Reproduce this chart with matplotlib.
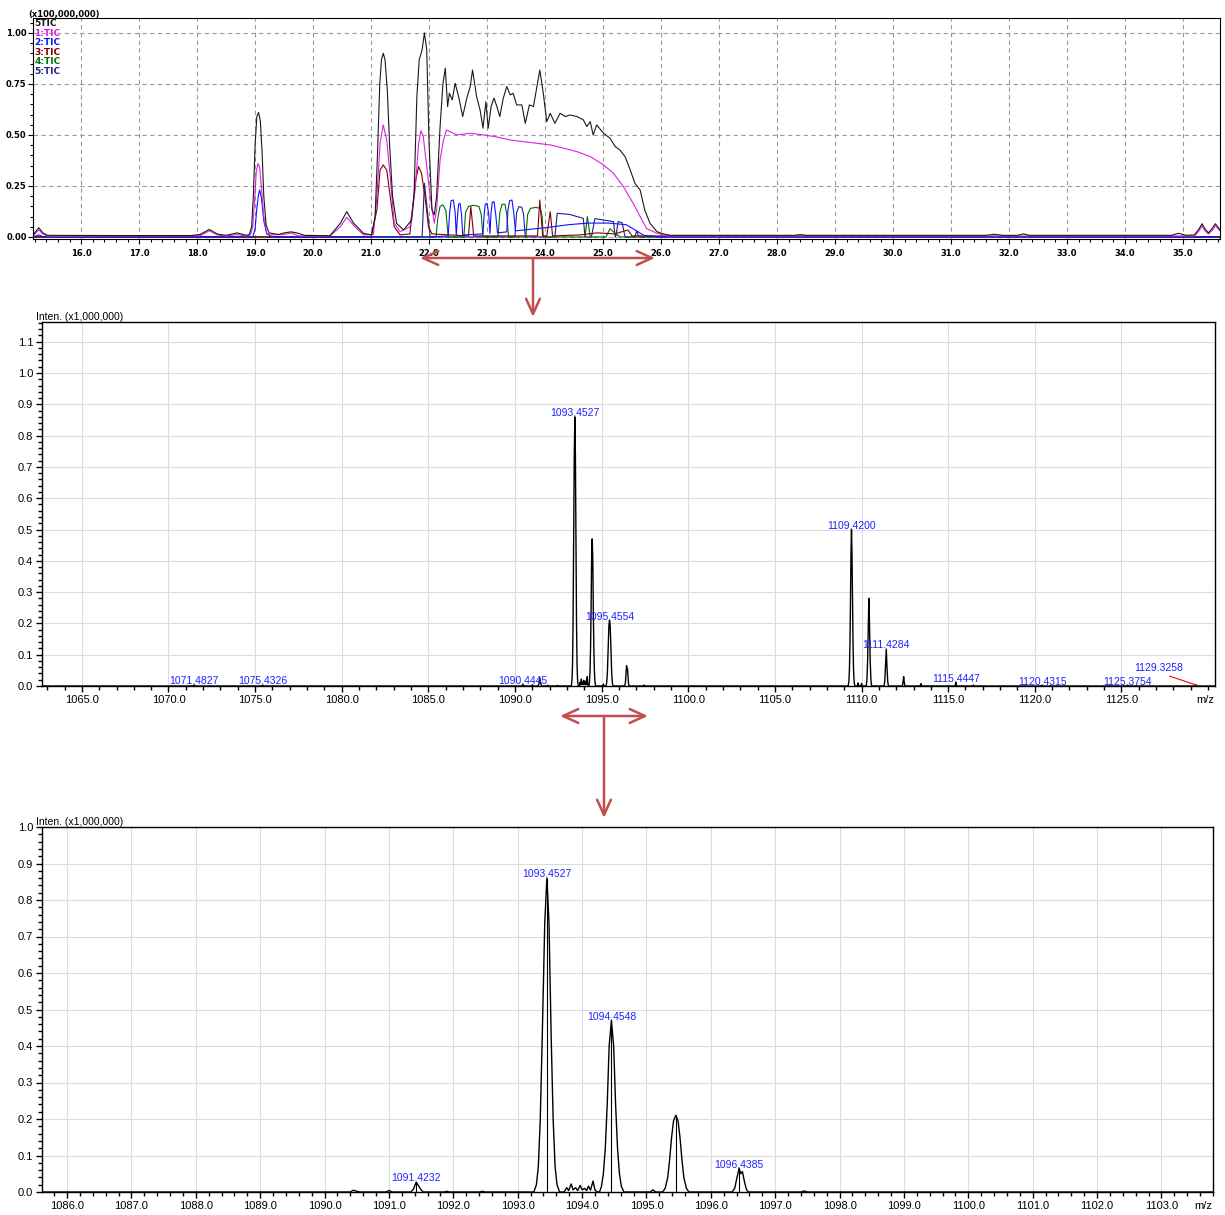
import matplotlib
matplotlib.use("Agg")
import matplotlib.pyplot as plt
from matplotlib.patches import FancyArrowPatch
from matplotlib.ticker import MultipleLocator, FormatStrFormatter

plt.rcParams['font.family'] = ['Liberation Sans', 'DejaVu Sans']
NARROW = ['Liberation Sans Narrow', 'DejaVu Sans']

# ---- TIC chromatograms (min, intensity x100,000,000) ----
tic_t = [15.17, 15.20, 15.27, 15.34, 15.42, 16.5, 17.9, 18.05, 18.21, 18.35, 18.5, 18.69, 18.85,
         18.90, 18.94, 18.97, 19.00, 19.03, 19.06, 19.09, 19.12, 19.15, 19.19, 19.24, 19.4, 19.5,
         19.62, 19.72, 19.85,
         20.29, 20.47, 20.58, 20.70, 20.87, 21.01, 21.07, 21.11, 21.15, 21.18, 21.21, 21.24, 21.28,
         21.32, 21.37, 21.44, 21.56,
         21.70, 21.74, 21.79, 21.83, 21.88, 21.92, 21.96, 22.00, 22.05, 22.09, 22.13, 22.19, 22.24,
         22.28, 22.32, 22.35, 22.40, 22.45, 22.51, 22.58, 22.65, 22.71, 22.75, 22.82, 22.88, 22.93,
         22.98, 23.02, 23.07, 23.12, 23.17, 23.22, 23.28, 23.34, 23.40, 23.45, 23.51, 23.60, 23.66,
         23.73, 23.80, 23.86, 23.91, 23.97, 24.03, 24.09, 24.17, 24.26, 24.35, 24.43, 24.55, 24.66,
         24.72, 24.78, 24.83, 24.89, 25.01, 25.12, 25.21, 25.29, 25.38, 25.47, 25.55, 25.64, 25.72,
         25.81, 25.93, 26.04, 26.16, 28.3, 28.4, 28.5, 31.6, 31.75, 31.9, 32.15, 32.25, 32.35, 34.8,
         34.93, 35.05, 35.2, 35.28, 35.33, 35.38, 35.44, 35.50, 35.56, 35.64]
tic_i = [0.008, 0.02, 0.045, 0.02, 0.008, 0.007, 0.007, 0.012, 0.037, 0.014, 0.008, 0.02, 0.008,
         0.012, 0.05, 0.20, 0.45, 0.59, 0.61, 0.57, 0.42, 0.20, 0.06, 0.02, 0.012, 0.02,
         0.025, 0.02, 0.008,
         0.006, 0.067, 0.124, 0.067, 0.018, 0.01, 0.10, 0.40, 0.75, 0.87, 0.90, 0.87, 0.72,
         0.45, 0.20, 0.067, 0.034,
         0.083, 0.198, 0.688, 0.868, 0.917, 1.0, 0.917, 0.459, 0.132, 0.108, 0.198, 0.54, 0.753,
         0.827, 0.639, 0.704, 0.672, 0.753, 0.688, 0.59, 0.68, 0.737, 0.818, 0.688, 0.622, 0.533,
         0.663, 0.533, 0.639, 0.68, 0.639, 0.59, 0.68, 0.737, 0.696, 0.704, 0.647, 0.647, 0.557,
         0.647, 0.639, 0.737, 0.818, 0.704, 0.565, 0.606, 0.557, 0.606, 0.59, 0.598, 0.59, 0.574,
         0.541, 0.565, 0.50, 0.549, 0.508, 0.484, 0.443, 0.426, 0.394, 0.328, 0.263, 0.23, 0.132,
         0.067, 0.026, 0.015, 0.008, 0.008, 0.012, 0.008, 0.008, 0.013, 0.008, 0.008, 0.015, 0.008, 0.008,
         0.018, 0.008, 0.01, 0.04, 0.065, 0.04, 0.02, 0.04, 0.065, 0.035]

tic1_t = [15.17, 15.20, 15.27, 15.34, 15.42, 18.05, 18.21, 18.35, 18.5, 18.69, 18.85, 18.92, 18.96,
          18.99, 19.02, 19.05, 19.08, 19.11, 19.15, 19.20, 19.25, 19.5, 19.62, 19.75, 20.29, 20.47,
          20.58, 20.72, 20.87, 21.04, 21.10, 21.155, 21.21, 21.27, 21.33, 21.40, 21.50, 21.67, 21.76,
          21.82, 21.86, 21.90, 21.96, 22.02, 22.09, 22.13, 22.19, 22.25, 22.30, 22.48, 22.71, 22.94,
          23.17, 23.40, 23.63, 23.86, 24.09, 24.32, 24.55, 24.78, 25.01, 25.18, 25.35, 25.52, 25.64,
          25.75, 25.93, 26.10, 35.2, 35.28, 35.33, 35.38, 35.44, 35.50, 35.56, 35.64]
tic1_i = [0.004, 0.015, 0.035, 0.015, 0.004, 0.006, 0.03, 0.01, 0.004, 0.012, 0.004, 0.01, 0.05,
          0.17, 0.32, 0.36, 0.34, 0.24, 0.10, 0.02, 0.01, 0.012, 0.02, 0.005, 0.004, 0.05,
          0.096, 0.05, 0.01, 0.012, 0.198, 0.459, 0.549, 0.475, 0.296, 0.067, 0.026, 0.05, 0.23,
          0.459, 0.521, 0.492, 0.345, 0.198, 0.067, 0.132, 0.378, 0.475, 0.524, 0.50, 0.508, 0.50,
          0.49, 0.475, 0.467, 0.459, 0.451, 0.435, 0.418, 0.394, 0.353, 0.312, 0.247, 0.165, 0.10,
          0.042, 0.018, 0.005, 0.005, 0.03, 0.055, 0.03, 0.015, 0.03, 0.055, 0.03]

tic2_t = [15.17, 15.27, 15.35, 18.96, 19.00, 19.03, 19.06, 19.08, 19.11, 19.15, 19.20, 19.30, 22.0,
          22.33, 22.355, 22.38, 22.42, 22.45, 22.47, 22.49, 22.51, 22.535, 22.56, 22.58,
          22.93, 22.95, 22.97, 23.00, 23.03, 23.05, 23.07, 23.09, 23.12, 23.15, 23.18,
          23.34, 23.36, 23.39, 23.43, 23.46, 23.49, 24.0, 24.4, 24.75, 25.1,
          25.4, 25.55, 25.7, 26.0, 35.64]
tic2_i = [0.0, 0.01, 0.0, 0.0, 0.04, 0.14, 0.21, 0.23, 0.19, 0.08, 0.015, 0.0, 0.0,
          0.005, 0.12, 0.178, 0.181, 0.12, 0.008, 0.10, 0.16, 0.165, 0.11, 0.01,
          0.015, 0.11, 0.16, 0.165, 0.11, 0.017, 0.12, 0.17, 0.173, 0.11, 0.02,
          0.025, 0.13, 0.178, 0.181, 0.12, 0.03, 0.045, 0.06, 0.068, 0.068,
          0.06, 0.035, 0.008, 0.0, 0.0]

tic3_t = [15.17, 21.0, 21.10, 21.155, 21.21, 21.27, 21.33, 21.40, 21.50, 21.67, 21.76, 21.82, 21.87,
          21.93, 21.99, 22.05, 22.68, 22.72, 22.77, 23.87, 23.91, 23.96, 24.03, 24.09, 24.13, 24.6,
          24.9, 25.2, 25.43, 25.5, 35.64]
tic3_i = [0.0, 0.0, 0.132, 0.328, 0.353, 0.328, 0.198, 0.05, 0.01, 0.015, 0.263, 0.345, 0.312,
          0.198, 0.05, 0.015, 0.005, 0.149, 0.005, 0.005, 0.181, 0.005, 0.005, 0.124, 0.005, 0.01,
          0.02, 0.015, 0.034, 0.005, 0.0]

tic4_t = [15.17, 22.12, 22.15, 22.19, 22.24, 22.29, 22.33, 22.60, 22.63, 22.68, 22.76, 22.86, 22.90,
          22.93, 23.19, 23.22, 23.26, 23.31, 23.34, 23.37, 23.67, 23.70, 23.75, 23.84, 23.92, 23.95,
          23.97, 24.69, 24.73, 24.78, 25.05, 25.12, 25.2, 25.3, 35.64]
tic4_i = [0.0, 0.0, 0.09, 0.15, 0.157, 0.13, 0.0, 0.0, 0.12, 0.15, 0.155, 0.15, 0.11,
          0.0, 0.0, 0.12, 0.16, 0.16, 0.11, 0.0, 0.0, 0.11, 0.14, 0.145, 0.14, 0.10,
          0.0, 0.0, 0.10, 0.0, 0.0, 0.04, 0.02, 0.0, 0.0]

tic5_t = [15.17, 21.88, 21.92, 21.97, 22.02, 23.48, 23.51, 23.55, 23.60, 23.63, 23.66, 24.17, 24.21,
          24.43, 24.66, 24.69, 24.80, 24.86, 25.18, 25.21, 25.22, 25.26, 25.33, 25.38, 25.55, 25.58,
          25.62, 35.64]
tic5_i = [0.0, 0.0, 0.263, 0.132, 0.0, 0.0, 0.12, 0.149, 0.145, 0.11, 0.0, 0.0, 0.116,
          0.11, 0.091, 0.0, 0.0, 0.09, 0.075, 0.0, 0.0, 0.075, 0.07, 0.0, 0.0, 0.03,
          0.0, 0.0]

trace_names = ['5TIC', '1:TIC', '2:TIC', '3:TIC', '4:TIC', '5:TIC']
trace_colors = ['#1a1a1a', '#e020e0', '#1010ff', '#800000', '#007000', '#20208f']

# ---- mass spectrum, profile (m/z, intensity x1,000,000) ----
spec_mz = [1062.7,
           1071.44, 1071.4827, 1071.52,
           1075.39, 1075.4326, 1075.47,
           1090.40, 1090.4445, 1090.50, 1090.55,
           1090.95, 1091.00, 1091.05,
           1091.34, 1091.38, 1091.4232, 1091.46, 1091.49, 1091.53,
           1091.86, 1091.90, 1091.94, 1092.41, 1092.45, 1092.49,
           1093.25, 1093.29, 1093.32, 1093.35, 1093.38, 1093.42, 1093.4527, 1093.485, 1093.52,
           1093.55, 1093.58, 1093.61, 1093.65,
           1093.72, 1093.76, 1093.79, 1093.83, 1093.86, 1093.90, 1093.93, 1093.97, 1094.00,
           1094.04, 1094.07, 1094.10, 1094.13, 1094.17, 1094.20, 1094.24,
           1094.27, 1094.30, 1094.33, 1094.36, 1094.39, 1094.42, 1094.4548, 1094.49, 1094.52,
           1094.55, 1094.58, 1094.61, 1094.65,
           1095.06, 1095.10, 1095.14,
           1095.25, 1095.29, 1095.33, 1095.36, 1095.39, 1095.42, 1095.4554, 1095.49, 1095.52,
           1095.55, 1095.58, 1095.62, 1095.66,
           1096.33, 1096.37, 1096.40, 1096.4385, 1096.465, 1096.49, 1096.52, 1096.55, 1096.58,
           1097.40, 1097.45, 1097.50,
           1109.23, 1109.27, 1109.30, 1109.33, 1109.36, 1109.39, 1109.4200, 1109.45, 1109.48,
           1109.51, 1109.54, 1109.57, 1109.61,
           1109.76, 1109.80, 1109.84, 1109.96, 1110.00, 1110.04,
           1110.27, 1110.31, 1110.35, 1110.39, 1110.423, 1110.46, 1110.50, 1110.54, 1110.58,
           1111.30, 1111.34, 1111.38, 1111.4284, 1111.47, 1111.51, 1111.55,
           1112.36, 1112.40, 1112.43, 1112.46, 1112.50,
           1113.38, 1113.43, 1113.48,
           1115.40, 1115.4447, 1115.48,
           1116.41, 1116.45, 1116.49,
           1120.39, 1120.4315, 1120.47,
           1125.33, 1125.3754, 1125.42,
           1129.28, 1129.3258, 1129.37,
           1130.4]
spec_int = [0.0,
            0.0, 0.004, 0.0,
            0.0, 0.003, 0.0,
            0.0, 0.005, 0.002, 0.0,
            0.0, 0.004, 0.0,
            0.0, 0.008, 0.027, 0.017, 0.008, 0.0,
            0.0, 0.002, 0.0, 0.0, 0.002, 0.0,
            0.0, 0.02, 0.07, 0.20, 0.42, 0.74, 0.86, 0.74, 0.42,
            0.20, 0.07, 0.02, 0.0,
            0.0, 0.012, 0.004, 0.022, 0.006, 0.012, 0.004, 0.018, 0.006,
            0.010, 0.004, 0.016, 0.005, 0.030, 0.005, 0.0,
            0.0, 0.015, 0.05, 0.12, 0.24, 0.40, 0.47, 0.40, 0.24,
            0.12, 0.05, 0.015, 0.0,
            0.0, 0.006, 0.0,
            0.0, 0.01, 0.04, 0.09, 0.15, 0.195, 0.21, 0.195, 0.15,
            0.09, 0.04, 0.01, 0.0,
            0.0, 0.01, 0.035, 0.065, 0.05, 0.056, 0.03, 0.008, 0.0,
            0.0, 0.003, 0.0,
            0.0, 0.015, 0.05, 0.13, 0.26, 0.42, 0.50, 0.42, 0.26,
            0.13, 0.05, 0.015, 0.0,
            0.0, 0.010, 0.0, 0.0, 0.008, 0.0,
            0.0, 0.02, 0.08, 0.20, 0.28, 0.20, 0.08, 0.02, 0.0,
            0.0, 0.015, 0.06, 0.118, 0.06, 0.015, 0.0,
            0.0, 0.015, 0.03, 0.015, 0.0,
            0.0, 0.008, 0.0,
            0.0, 0.012, 0.0,
            0.0, 0.003, 0.0,
            0.0, 0.002, 0.0,
            0.0, 0.002, 0.0,
            0.0, 0.003, 0.0,
            0.0]

# labelled centroids, full scan
ms_label_mz = [1071.4827, 1075.4326, 1090.4445, 1093.4527, 1095.4554, 1109.4200,
               1111.4284, 1115.4447, 1120.4315, 1125.3754]
ms_label_int = [0.004, 0.003, 0.005, 0.86, 0.21, 0.50, 0.118, 0.012, 0.002, 0.002]
ms_offset_mz = 1129.3258
ms_offset_int = 0.003

# labelled centroids, expanded range
zoom_label_mz = [1091.4232, 1093.4527, 1094.4548, 1096.4385]
zoom_label_int = [0.027, 0.86, 0.47, 0.065]
zoom_stick_mz = [1091.4232, 1093.4527, 1094.4548, 1095.4554, 1096.4385]
zoom_stick_int = [0.027, 0.86, 0.47, 0.21, 0.065]

W, H = 1225, 1215
fig = plt.figure(figsize=(W / 100, H / 100), dpi=100)


def box(l, t, r, b):
    return [l / W, 1 - b / H, (r - l) / W, (b - t) / H]


def fig_xy(x, y):
    return (x / W, 1 - y / H)


# ---------------- chromatogram ----------------
ax_tic = fig.add_axes(box(33, 18, 1220, 239))
traces = [(tic_t, tic_i), (tic1_t, tic1_i), (tic2_t, tic2_i),
          (tic3_t, tic3_i), (tic4_t, tic4_i), (tic5_t, tic5_i)]
for (t, i), c in zip(traces[::-1], trace_colors[::-1]):
    ax_tic.plot(t, i, color=c, lw=0.8)
ax_tic.set_xlim(15.17, 35.64)
ax_tic.set_ylim(-0.01, 1.073)
ax_tic.xaxis.set_major_locator(MultipleLocator(1.0))
ax_tic.xaxis.set_minor_locator(MultipleLocator(0.2))
ax_tic.yaxis.set_major_locator(MultipleLocator(0.25))
ax_tic.yaxis.set_minor_locator(MultipleLocator(0.05))
ax_tic.xaxis.set_major_formatter(FormatStrFormatter('%.1f'))
ax_tic.yaxis.set_major_formatter(FormatStrFormatter('%.2f'))
ax_tic.grid(True, which='major', color='#9a9a9a', linestyle=(0, (4, 3)), lw=0.8)
ax_tic.tick_params(which='both', direction='out', width=0.8, labelsize=6)
ax_tic.tick_params(which='major', length=3.5)
ax_tic.tick_params(which='minor', length=2.5)
ax_tic.tick_params(axis='x', pad=4)
ax_tic.tick_params(axis='y', pad=1)
for lab in ax_tic.get_xticklabels() + ax_tic.get_yticklabels():
    lab.set_fontfamily(NARROW)
    lab.set_fontweight('bold')
for s in ax_tic.spines.values():
    s.set_linewidth(0.8)

ax_tic.text(-0.004, 1.014, '(x100,000,000)', transform=ax_tic.transAxes, ha='left', va='center',
            fontsize=6, fontweight='bold', family=NARROW)
legend_y = [0.973, 0.928, 0.887, 0.842, 0.801, 0.760]
for name, c, y in zip(trace_names, trace_colors, legend_y):
    ax_tic.text(0.001, y, name, transform=ax_tic.transAxes, ha='left', va='center',
                fontsize=6.5, fontweight='bold', family=NARROW, color=c)


# ---------------- spectra ----------------
def style_spectrum(ax, xmajor, xminor):
    ax.xaxis.set_major_locator(xmajor)
    ax.xaxis.set_minor_locator(MultipleLocator(xminor))
    ax.yaxis.set_major_locator(MultipleLocator(0.1))
    ax.yaxis.set_minor_locator(MultipleLocator(0.02))
    ax.xaxis.set_major_formatter(FormatStrFormatter('%.1f'))
    ax.yaxis.set_major_formatter(FormatStrFormatter('%.1f'))
    ax.grid(True, which='major', color='#dcdcdc', lw=0.8)
    ax.set_axisbelow(True)
    ax.tick_params(which='both', direction='out', width=1.0, labelsize=8, colors='black')
    ax.tick_params(which='major', length=4.3)
    ax.tick_params(which='minor', length=2.8)
    ax.tick_params(axis='x', pad=2)
    ax.tick_params(axis='y', pad=2)
    for s in ax.spines.values():
        s.set_linewidth(1.0)
    ax.text(-0.005, 1.0, 'Inten. (x1,000,000)', transform=ax.transAxes, ha='left', va='bottom',
            fontsize=7.5)
    ax.annotate('m/z', xy=(1.0, 0.0), xycoords='axes fraction', xytext=(-7, -10),
                textcoords='offset points', ha='center', va='center', fontsize=8)


LABEL_BLUE = '#2020ff'

ax_ms = fig.add_axes(box(42, 322, 1215, 686))
ax_ms.plot(spec_mz, spec_int, color='black', lw=1.0)
ax_ms.set_xlim(1062.7, 1130.4)
ax_ms.set_ylim(0, 1.163)
style_spectrum(ax_ms, MultipleLocator(5.0), 1.0)
ax_ms.set_xticks([1065 + 5 * k for k in range(13)])
for mz, h in zip(ms_label_mz, ms_label_int):
    ax_ms.annotate(f'{mz:.4f}', xy=(mz, h), xytext=(0, 0.5), textcoords='offset points',
                   ha='center', va='baseline', fontsize=7.5, color=LABEL_BLUE)
ax_ms.annotate(f'{ms_offset_mz:.4f}', xy=(ms_offset_mz, ms_offset_int), xytext=(-27, 12),
               textcoords='offset points', ha='center', va='center', fontsize=7.5,
               color=LABEL_BLUE,
               arrowprops=dict(arrowstyle='-', color='red', lw=0.8, relpos=(0.55, 0.0),
                               shrinkA=0, shrinkB=0))

ax_zoom = fig.add_axes(box(42, 827, 1213, 1192))
ax_zoom.plot(spec_mz, spec_int, color='black', lw=1.0)
ax_zoom.vlines(zoom_stick_mz, 0, zoom_stick_int, color='black', lw=0.8)
ax_zoom.set_xlim(1085.61, 1103.8)
ax_zoom.set_ylim(0, 1.0)
style_spectrum(ax_zoom, MultipleLocator(1.0), 0.2)
for mz, h in zip(zoom_label_mz, zoom_label_int):
    ax_zoom.annotate(f'{mz:.4f}', xy=(mz, h), xytext=(0, 0.5), textcoords='offset points',
                     ha='center', va='baseline', fontsize=7.5, color=LABEL_BLUE)

# ---------------- expansion arrows ----------------
ARROW_RED = '#c0504d'
head = 'head_length=11,head_width=5'
arrows = [((420, 258), (655, 258), '<->'), ((533, 258), (533, 317), '->'),
          ((560, 716), (648, 716), '<->'), ((604, 716), (604, 818), '->')]
for a, b, style in arrows:
    fig.add_artist(FancyArrowPatch(fig_xy(*a), fig_xy(*b), transform=fig.transFigure,
                                   arrowstyle=f'{style},{head}', color=ARROW_RED, lw=1.8,
                                   shrinkA=0, shrinkB=0))

fig.savefig('out.png', dpi=100)
